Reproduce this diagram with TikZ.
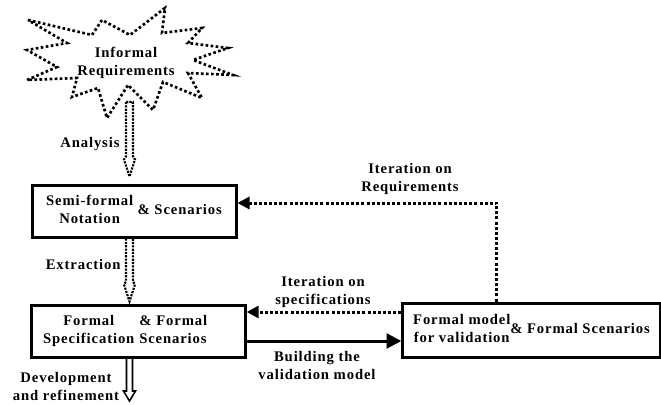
\documentclass[tikz,border=0pt]{standalone}
\usepackage{fontspec}
\setmainfont{Liberation Serif}[LetterSpace=6]
\usetikzlibrary{arrows.meta,calc}

\tikzset{
	box/.style={draw,line width=2.25pt,inner sep=1pt},
	lbl/.style={inner sep=0.75pt,align=center},
	dotline/.style={line width=2.25pt,dash pattern=on 2.25pt off 1.6pt},
	hollowdot/.style={line width=1.6pt,dash pattern=on 1.6pt off 0.9pt},
	starline/.style={line width=2pt,dash pattern=on 2pt off 1.8pt,line join=miter},
	tip/.style={-{Triangle[length=9pt,width=9pt]}}
}
\tikzset{every picture/.style={line width=0.75pt}}

\begin{document}
\begin{tikzpicture}[x=0.75pt,y=0.75pt,yscale=-1,font=\bfseries\fontsize{11}{13.5}\selectfont]
	\useasboundingbox (0,0) rectangle (661,404);
	
	%Star
	\draw[starline] (28,20) -- (92,35) -- (102,20) -- (130,35) -- (165,8) -- (162,33) -- (202,28) -- (188,43) -- (228,48) -- (193,60) -- (233,75) -- (188,73) -- (202,98) -- (163,82) -- (153,110) -- (128,85) -- (107,118) -- (98,88) -- (72,97) -- (77,78) -- (27,80) -- (57,67) -- (27,50) -- (67,43) -- cycle ;
	% Text Node
	\node[lbl] (req) at (126,63) {Informal\\Requirements};
	
	%Boxes
	\node[box,minimum width=153pt,minimum height=39pt] (semi) at (134,211) {\begin{tabular}{@{}c@{}}Semi-formal\\Notation\end{tabular} \& Scenarios};
	\node[box,minimum width=160pt,minimum height=39pt,text width=143pt,align=left] (spec) at (138.5,331) {\begin{tabular}{@{}c@{}}Formal\\Specification\end{tabular} \begin{tabular}{@{}l@{}}\& Formal\\Scenarios\end{tabular}};
	\node[box,minimum width=193pt,minimum height=40.5pt] (model) at (531.5,330) {\begin{tabular}{@{}c@{}}Formal model\\for validation\end{tabular}\& Formal Scenarios};
	
	%Analysis
	\coordinate (anaS) at (129.5,102);
	\coordinate (anaE) at ($(semi.north -| anaS)+(0,-7)$);
	\draw[hollowdot] ($(anaS)+(-3.5,0)$) -- ($(anaE)+(-3.5,-20)$) -- ($(anaE)+(-5.5,-17)$) -- (anaE) -- ($(anaE)+(5.5,-17)$) -- ($(anaE)+(3.5,-20)$) -- ($(anaS)+(3.5,0)$) -- cycle ;
	%Extraction
	\coordinate (extS) at (semi.south -| anaS);
	\coordinate (extE) at ($(spec.north -| anaS)+(0,-2)$);
	\draw[hollowdot] ($(extS)+(-3.5,0)$) -- ($(extE)+(-3.5,-20)$) -- ($(extE)+(-5.5,-17)$) -- (extE) -- ($(extE)+(5.5,-17)$) -- ($(extE)+(3.5,-20)$) -- ($(extS)+(3.5,0)$) ;
	%Development
	\coordinate (devS) at (spec.south -| anaS);
	\coordinate (devE) at (129.5,401);
	\draw[line width=1.2pt] ($(devS)+(-3,0)$) -- ($(devE)+(-3,-10)$) -- ($(devE)+(-6,-10)$) -- (devE) -- ($(devE)+(6,-10)$) -- ($(devE)+(3,-10)$) -- ($(devS)+(3,0)$) ;
	
	%Iterations
	\draw[dotline,tip] ([xshift=-25.9pt]model.north) |- ([yshift=-6pt]semi.east) ;
	\coordinate (itS) at ([yshift=-13.5pt]model.west);
	\draw[dotline,tip] (itS) -- (itS -| spec.east) ;
	%Building
	\coordinate (bldS) at ([yshift=7.5pt]spec.east);
	\draw[line width=2.25pt,-{Triangle[length=11pt,width=11pt]}] (bldS) -- (bldS -| model.west) ;
	
	% Text Node
	\node[lbl,anchor=east] (ana) at (121,144) {Analysis};
	% Text Node
	\node[lbl,anchor=east] (ext) at (122,264) {Extraction};
	% Text Node
	\node[lbl] (dev) at (66,386) {Development\\and refinement};
	% Text Node
	\node[lbl] (itreq) at (410,179) {Iteration on\\Requirements};
	% Text Node
	\node[lbl] (itspec) at (323,292) {Iteration on\\specifications};
	% Text Node
	\node[lbl] (bld) at (317,365) {Building the\\validation model};
	
\end{tikzpicture}
\end{document}
